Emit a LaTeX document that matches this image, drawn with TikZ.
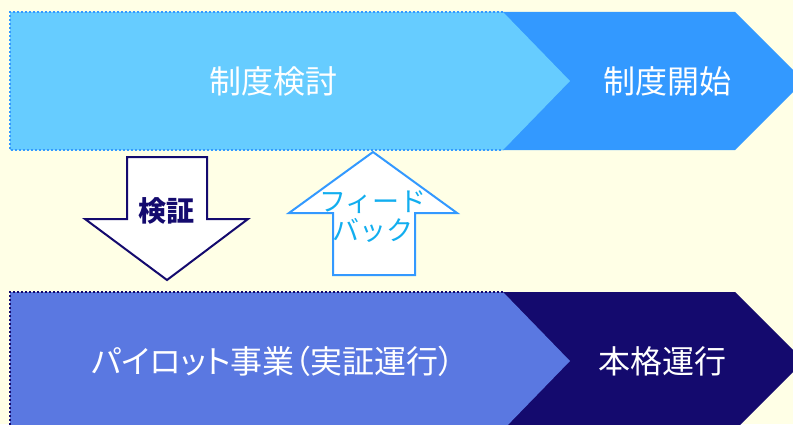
\documentclass[tikz,border=0pt]{standalone}
\usepackage{fontspec}
\newfontfamily\jpfont{Noto Sans CJK JP}
\newfontfamily\jppropfont[RawFeature=+palt]{Noto Sans CJK JP}
\definecolor{bgivory}{HTML}{FFFFE6}
\definecolor{skylight}{HTML}{66CCFF}
\definecolor{skydark}{HTML}{3399FF}
\definecolor{pilotblue}{HTML}{5A78E1}
\definecolor{navy}{HTML}{140A6E}
\definecolor{fbcyan}{HTML}{12AEEF}

\begin{document}
\begin{tikzpicture}[
    stagetext/.style={text=white, font=\jpfont\fontsize{32}{38}\selectfont},
    arrowbox/.style={fill=white, line width=2pt, line join=miter},
    dotborder/.style={line width=2pt, dash pattern=on 2pt off 2pt}
  ]
\useasboundingbox (0,0) rectangle (793pt, 424pt); % adjust bounding box
\clip (0,0) rectangle (793pt, 424pt);
\fill[bgivory] (0,0) rectangle (793pt, 424pt);

% top row
\fill[skydark] (480pt, 412pt) -- (735pt, 412pt) -- (804pt, 343pt)
               -- (735pt, 274pt) -- (480pt, 274pt) -- cycle;
\fill[skylight] (10pt, 412pt) -- (503pt, 412pt) -- (570pt, 343pt)
                -- (503pt, 274pt) -- (10pt, 274pt) -- cycle;
\draw[skydark, dotborder] (503pt, 412pt) -- (10pt, 412pt) -- (10pt, 274pt) -- (503pt, 274pt);
\node (study) at (273pt, 343pt) [stagetext] {制度検討};
\node (launch) at (667pt, 343pt) [stagetext] {制度開始};

% bottom row
\fill[navy] (480pt, 132pt) -- (735pt, 132pt) -- (804pt, 63pt)
            -- (735pt, -6pt) -- (480pt, -6pt) -- cycle;
\fill[pilotblue] (10pt, 132pt) -- (503pt, 132pt) -- (570pt, 63pt)
                 -- (503pt, -6pt) -- (10pt, -6pt) -- cycle;
\draw[navy, dotborder] (503pt, 132pt) -- (10pt, 132pt) -- (10pt, -6pt);
\node (pilot) at (273pt, 63pt) [stagetext, font=\jppropfont\fontsize{32}{38}\selectfont] {パイロット事業（実証運行）};
\node (fullrun) at (662pt, 63pt) [stagetext] {本格運行};

% down arrow
\draw[navy, arrowbox] (127pt, 267pt) -- (207pt, 267pt) -- (207pt, 205pt) -- (248pt, 205pt)
                      -- (167pt, 144pt) -- (85pt, 205pt) -- (127pt, 205pt) -- cycle;
\node (verify) at (166pt, 213pt) [text=navy, font=\jpfont\bfseries\fontsize{28}{32}\selectfont] {検証};

% up arrow
\draw[skydark, arrowbox] (373pt, 272pt) -- (457pt, 211pt) -- (415pt, 211pt) -- (415pt, 149pt)
                         -- (333pt, 149pt) -- (333pt, 211pt) -- (289pt, 211pt) -- cycle;
\node (feedback) at (373pt, 207pt) [text=fbcyan, align=center,
      font=\jpfont\fontsize{27}{29}\selectfont] {フィード\\バック};
\end{tikzpicture}
\end{document}
